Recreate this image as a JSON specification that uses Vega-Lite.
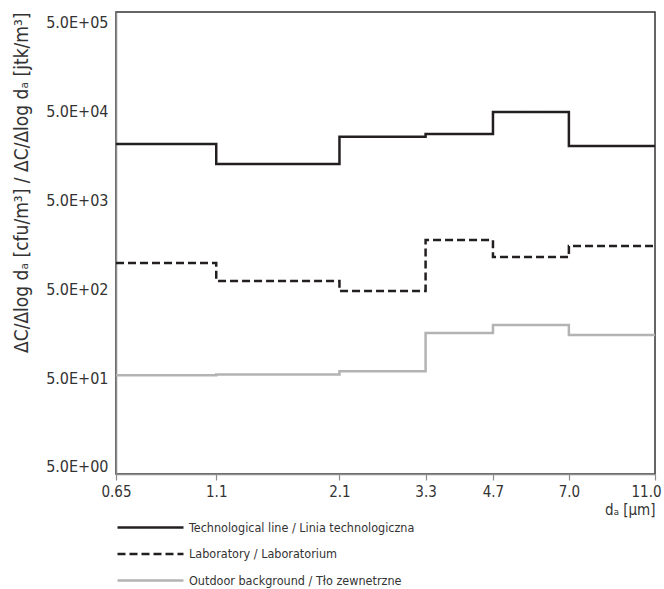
{
  "$schema": "https://vega.github.io/schema/vega-lite/v6.json",
  "width": 539,
  "height": 462,
  "autosize": {"type": "none"},
  "padding": {"left": 116, "top": 12, "right": 9, "bottom": 115},
  "background": "white",
  "config": {
    "view": {"stroke": "#333333", "strokeWidth": 1.5},
    "font": "Liberation Sans Narrow, DejaVu Sans Condensed, sans-serif",
    "legend": {
      "orient": "none",
      "legendX": 20,
      "legendY": 501,
      "title": null,
      "direction": "vertical",
      "symbolType": "M-2.5,0H2.5",
      "symbolSize": 697,
      "labelOffset": 24,
      "labelFontSize": 12.5,
      "labelColor": "#333333",
      "labelLimit": 500,
      "rowPadding": 5.5,
      "padding": 0
    }
  },
  "data": {
    "values": [
      {"series": "Technological line / Linia technologiczna", "d": 0.65, "v": 21700},
      {"series": "Technological line / Linia technologiczna", "d": 1.1, "v": 12900},
      {"series": "Technological line / Linia technologiczna", "d": 2.1, "v": 26100},
      {"series": "Technological line / Linia technologiczna", "d": 3.3, "v": 28200},
      {"series": "Technological line / Linia technologiczna", "d": 4.7, "v": 49900},
      {"series": "Technological line / Linia technologiczna", "d": 7.0, "v": 20600},
      {"series": "Technological line / Linia technologiczna", "d": 11.0, "v": 20600},
      {"series": "Laboratory / Laboratorium", "d": 0.65, "v": 989},
      {"series": "Laboratory / Laboratorium", "d": 1.1, "v": 621},
      {"series": "Laboratory / Laboratorium", "d": 2.1, "v": 479},
      {"series": "Laboratory / Laboratorium", "d": 3.3, "v": 1797},
      {"series": "Laboratory / Laboratorium", "d": 4.7, "v": 1156},
      {"series": "Laboratory / Laboratorium", "d": 7.0, "v": 1538},
      {"series": "Laboratory / Laboratorium", "d": 11.0, "v": 1538},
      {"series": "Outdoor background / Tło zewnetrzne", "d": 0.65, "v": 54},
      {"series": "Outdoor background / Tło zewnetrzne", "d": 1.1, "v": 55},
      {"series": "Outdoor background / Tło zewnetrzne", "d": 2.1, "v": 60},
      {"series": "Outdoor background / Tło zewnetrzne", "d": 3.3, "v": 161},
      {"series": "Outdoor background / Tło zewnetrzne", "d": 4.7, "v": 198},
      {"series": "Outdoor background / Tło zewnetrzne", "d": 7.0, "v": 153},
      {"series": "Outdoor background / Tło zewnetrzne", "d": 11.0, "v": 153}
    ]
  },
  "mark": {"type": "line", "interpolate": "step-after"},
  "encoding": {
    "x": {
      "field": "d",
      "type": "quantitative",
      "scale": {"type": "log", "domain": [0.65, 11], "nice": false},
      "axis": {
        "values": [0.65, 1.1, 2.1, 3.3, 4.7, 7, 11],
        "labelExpr": "datum.value == 0.65 ? '0.65' : format(datum.value, '.1f')",
        "grid": false,
        "domainColor": "#8c8c8c",
        "domainWidth": 1.5,
        "tickColor": "#8c8c8c",
        "tickSize": 6,
        "tickWidth": 1.2,
        "labelFontSize": 15,
        "labelColor": "#333333",
        "labelPadding": 4,
        "labelFlush": false,
        "labelOverlap": false,
        "labelOffset": {"condition": {"test": "datum.value == 11", "value": -9}, "value": 0},
        "title": "dₐ [μm]",
        "titleAnchor": "end",
        "titleFontWeight": "normal",
        "titleFontSize": 15,
        "titleColor": "#333333",
        "titlePadding": 3
      }
    },
    "y": {
      "field": "v",
      "type": "quantitative",
      "scale": {"type": "log", "domain": [4.17, 665000], "nice": false},
      "axis": {
        "values": [5, 50, 500, 5000, 50000, 500000],
        "labelExpr": "'5.0E+0' + round(log(datum.value / 5) / LN10)",
        "ticks": false,
        "grid": false,
        "domainColor": "#8c8c8c",
        "domainWidth": 1.5,
        "labelFontSize": 16,
        "labelColor": "#333333",
        "labelPadding": 8,
        "labelFlush": false,
        "labelOverlap": false,
        "title": "ΔC/Δlog dₐ [cfu/m³] / ΔC/Δlog dₐ [jtk/m³]",
        "titleAnchor": "end",
        "titleFontWeight": "normal",
        "titleFontSize": 19,
        "titleColor": "#333333",
        "titlePadding": 14
      }
    },
    "color": {
      "field": "series",
      "type": "nominal",
      "scale": {
        "domain": ["Technological line / Linia technologiczna", "Laboratory / Laboratorium", "Outdoor background / Tło zewnetrzne"],
        "range": ["#231f20", "#231f20", "#b3b3b3"]
      }
    },
    "strokeDash": {
      "field": "series",
      "type": "nominal",
      "scale": {
        "domain": ["Technological line / Linia technologiczna", "Laboratory / Laboratorium", "Outdoor background / Tło zewnetrzne"],
        "range": [[1, 0], [8, 4], [1, 0]]
      }
    },
    "strokeWidth": {
      "field": "series",
      "type": "nominal",
      "scale": {
        "domain": ["Technological line / Linia technologiczna", "Laboratory / Laboratorium", "Outdoor background / Tło zewnetrzne"],
        "range": [2.5, 2.5, 3.5]
      }
    }
  }
}
